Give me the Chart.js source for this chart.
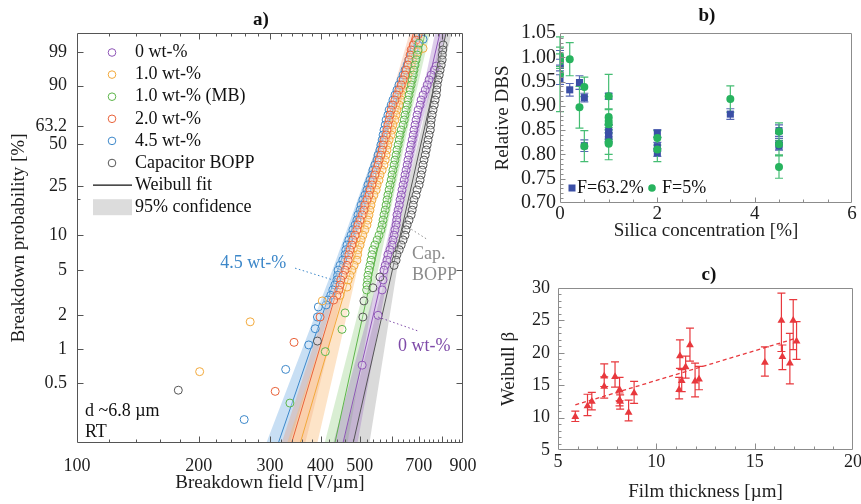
<!DOCTYPE html>
<html>
<head>
<meta charset="utf-8">
<title>Breakdown strength of BOPP / silica films</title>
<script src="https://cdn.jsdelivr.net/npm/chart.js@4.4.1/dist/chart.umd.min.js"></script>
<style>
  html, body { margin: 0; padding: 0; background: #fff; }
  body { width: 861px; height: 504px; position: relative; overflow: hidden; }
  .panel { position: absolute; }
  #boxA { left: 0; top: 0; width: 490px; height: 504px; }
  #boxB { left: 480px; top: 0; width: 400px; height: 250px; }
  #boxC { left: 480px; top: 250px; width: 400px; height: 254px; }
</style>
</head>
<body>
<div class="panel" id="boxA"><canvas id="chartA"></canvas></div>
<div class="panel" id="boxB"><canvas id="chartB"></canvas></div>
<div class="panel" id="boxC"><canvas id="chartC"></canvas></div>
<script>
// ---------- panel a) Weibull plot: field [V/um] vs failure probability [%] ----------
const aSeriesLabels = ['0 wt-%', '1.0 wt-%', '1.0 wt-% (MB)', '2.0 wt-%', '4.5 wt-%', 'Capacitor BOPP'];
const aLegendExtra = ['Weibull fit', '95% confidence'];
const aFieldTicks = [100, 200, 300, 400, 500, 600, 700, 800, 900];
const aFieldTickLabels = ['100', '200', '300', '400', '500', '', '700', '', '900'];
const aProbTicks = [0.5, 1, 2, 5, 10, 25, 50, 63.2, 90, 99];
const aProbTickLabels = ['0.5', '1', '2', '5', '10', '25', '50', '63.2', '90', '99'];
const aProbRange = [0.145, 99.89];

const field0 = [773, 764, 751, 742, 734, 726, 717, 709, 705, 697, 693, 689, 685, 681, 678, 674, 670, 666, 662, 658, 655, 651, 647, 644, 640, 636, 633, 629, 626, 622, 618, 617, 615, 611, 608, 604, 601, 594, 587, 584, 578, 574, 571, 568, 555, 507];
const prob0 = [96.8, 95.8, 94.3, 92.5, 90.3, 87.8, 85.0, 81.9, 78.6, 75.1, 71.5, 67.8, 64.0, 60.2, 56.5, 52.8, 49.2, 45.7, 42.3, 39.1, 36.1, 33.2, 30.6, 28.0, 25.7, 23.5, 21.4, 19.6, 17.8, 16.2, 14.8, 13.4, 12.2, 11.1, 10.0, 9.1, 8.25, 7.5, 6.8, 6.1, 5.5, 5.0, 4.1, 3.35, 2.0, 0.72];

const field10 = [717, 697, 677, 674, 670, 666, 658, 655, 647, 640, 636, 633, 626, 618, 615, 611, 604, 601, 598, 591, 587, 584, 581, 578, 574, 568, 561, 558, 552, 549, 542, 536, 533, 530, 527, 524, 521, 515, 509, 504, 501, 495, 494, 492, 484, 478, 473, 468, 465, 447, 404, 268, 201];
const prob10 = [99.3, 99.0, 98.68, 97.98, 97.04, 95.8, 94.3, 92.5, 90.3, 87.8, 85.0, 81.9, 78.6, 75.1, 71.5, 67.8, 64.0, 60.2, 56.5, 52.8, 49.2, 45.7, 42.3, 39.1, 36.1, 33.2, 30.6, 28.0, 25.7, 23.5, 21.4, 19.6, 17.8, 16.2, 14.8, 13.4, 12.2, 11.1, 10.0, 9.1, 8.25, 7.5, 6.8, 6.1, 5.5, 5.0, 4.5, 4.1, 3.55, 3.0, 2.68, 1.75, 0.63];

const field10mb = [701, 697, 693, 689, 685, 681, 678, 674, 670, 666, 662, 658, 655, 651, 647, 644, 640, 633, 629, 626, 622, 618, 615, 611, 608, 604, 601, 598, 594, 591, 587, 584, 581, 578, 574, 571, 568, 564, 558, 552, 545, 539, 536, 533, 530, 527, 524, 523, 521, 520, 460, 452, 411, 336];
const prob10mb = [99.6, 99.18, 98.68, 97.98, 97.04, 95.8, 94.3, 92.5, 90.3, 87.8, 85.0, 81.9, 78.6, 75.1, 71.5, 67.8, 64.0, 60.2, 56.5, 52.8, 49.2, 45.7, 42.3, 39.1, 36.1, 33.2, 30.6, 28.0, 25.7, 23.5, 21.4, 19.6, 17.8, 16.2, 14.8, 13.4, 12.2, 11.1, 10.0, 9.1, 8.25, 7.5, 6.8, 6.1, 5.5, 5.0, 4.5, 4.1, 3.7, 3.35, 2.1, 1.5, 0.95, 0.33];

const field20 = [697, 689, 678, 670, 666, 662, 658, 651, 647, 640, 633, 625, 618, 611, 604, 598, 594, 591, 587, 584, 581, 574, 571, 568, 564, 558, 555, 549, 545, 539, 536, 530, 527, 521, 515, 512, 507, 501, 495, 492, 487, 481, 478, 473, 470, 468, 465, 460, 455, 449, 447, 444, 439, 431, 399, 344, 309];
const prob20 = [99.86, 99.72, 99.51, 99.18, 98.68, 97.98, 97.04, 95.8, 94.3, 92.5, 90.3, 87.8, 85.0, 81.9, 78.6, 75.1, 71.5, 67.8, 64.0, 60.2, 56.5, 52.8, 49.2, 45.7, 42.3, 39.1, 36.1, 33.2, 30.6, 28.0, 25.7, 23.5, 21.4, 19.6, 17.8, 16.2, 14.8, 13.4, 12.2, 11.1, 10.0, 9.1, 8.25, 7.5, 6.8, 6.1, 5.5, 5.0, 4.5, 4.1, 3.7, 3.35, 3.0, 2.73, 1.93, 1.15, 0.42];

const field45 = [717, 697, 681, 670, 662, 655, 647, 640, 633, 625, 618, 611, 604, 598, 591, 587, 581, 578, 574, 571, 568, 564, 561, 555, 552, 545, 539, 536, 530, 524, 521, 515, 509, 504, 501, 495, 492, 487, 481, 476, 470, 465, 462, 460, 454, 447, 442, 441, 439, 434, 429, 424, 417, 413, 395, 393, 388, 374, 328, 259];
const prob45 = [99.75, 99.51, 99.18, 98.68, 97.98, 97.04, 95.8, 94.3, 92.5, 90.3, 87.8, 85.0, 81.9, 78.6, 75.1, 71.5, 67.8, 64.0, 60.2, 56.5, 52.8, 49.2, 45.7, 42.3, 39.1, 36.1, 33.2, 30.6, 28.0, 25.7, 23.5, 21.4, 19.6, 17.8, 16.2, 14.8, 13.4, 12.2, 11.1, 10.0, 9.1, 8.25, 7.5, 6.8, 6.1, 5.5, 5.0, 4.5, 4.1, 3.7, 3.35, 3.0, 2.73, 2.47, 2.37, 1.93, 1.52, 1.09, 0.66, 0.235];

const fieldCap = [804, 802, 800, 799, 795, 790, 786, 781, 777, 775, 773, 768, 764, 759, 755, 751, 749, 747, 742, 738, 734, 730, 726, 721, 717, 713, 709, 705, 701, 693, 689, 681, 678, 674, 670, 662, 655, 651, 647, 640, 633, 626, 618, 615, 608, 561, 539, 512, 509, 393, 178];
const probCap = [99.51, 99.18, 98.68, 97.98, 97.04, 95.8, 94.3, 92.5, 90.3, 87.8, 85.0, 81.9, 78.6, 75.1, 71.5, 67.8, 64.0, 60.2, 56.5, 52.8, 49.2, 45.7, 42.3, 39.1, 36.1, 33.2, 30.6, 28.0, 25.7, 23.5, 21.4, 19.6, 17.8, 16.2, 14.8, 13.4, 12.2, 11.1, 10.0, 9.1, 8.25, 7.5, 6.8, 6.1, 5.5, 4.35, 3.5, 2.68, 1.93, 1.18, 0.43];

// Weibull fit lines (field at the two probabilities in fitProb)
const fitProb = [0.12, 99.95];
const fit0 = [449, 795];
const fit10 = [351, 713];
const fit10mb = [429, 730];
const fit20 = [334, 685];
const fit45 = [309, 709];
const fitCap = [476, 823];

// 95% confidence bounds (field at the probabilities in bandProb)
const bandProb = [0.12, 5, 63.2, 99.95];
const band0Lo = [424, 561, 685, 773], band0Hi = [489, 590, 709, 823];
const band10Lo = [325, 460, 594, 693], band10Hi = [388, 493, 615, 734];
const band10mbLo = [404, 527, 637, 713], band10mbHi = [462, 555, 659, 751];
const band20Lo = [315, 442, 570, 670], band20Hi = [362, 468, 587, 705];
const band45Lo = [288, 428, 574, 689], band45Hi = [331, 453, 594, 730];
const bandCapLo = [449, 584, 713, 800], bandCapHi = [524, 618, 738, 851];

// ---------- panel b) relative DBS vs silica concentration ----------
const bConcTicks = [0, 2, 4, 6];
const bDbsTicks = [0.70, 0.75, 0.80, 0.85, 0.90, 0.95, 1.00, 1.05];
const bLegend = ['F=63.2%', 'F=5%'];
const bConc63 = [0, 0, 0, 0.2, 0.4, 0.5, 0.5, 1, 1, 1, 1, 2, 2, 2, 3.5, 4.5, 4.5, 4.5];
const bDbs63 = [0.999, 0.984, 0.954, 0.933, 0.948, 0.917, 0.818, 0.920, 0.848, 0.841, 0.836, 0.843, 0.816, 0.804, 0.883, 0.849, 0.821, 0.817];
const bErr63 = [0.015, 0.012, 0.010, 0.013, 0.014, 0.009, 0.012, 0.006, 0.012, 0.010, 0.009, 0.008, 0.009, 0.008, 0.011, 0.012, 0.012, 0.008];
const bConc5 = [0, 0, 0, 0.2, 0.4, 0.5, 0.5, 1, 1, 1, 1, 1, 1, 2, 2, 3.5, 4.5, 4.5, 4.5];
const bDbs5 = [1.001, 0.992, 0.965, 0.996, 0.897, 0.939, 0.817, 0.920, 0.877, 0.869, 0.862, 0.825, 0.822, 0.834, 0.810, 0.914, 0.847, 0.821, 0.774];
const bErr5 = [0.020, 0.015, 0.077, 0.034, 0.043, 0.020, 0.032, 0.045, 0.015, 0.025, 0.030, 0.025, 0.033, 0.015, 0.025, 0.027, 0.018, 0.022, 0.023];

// ---------- panel c) Weibull beta vs film thickness ----------
const cThickTicks = [5, 10, 15, 20];
const cBetaTicks = [5, 10, 15, 20, 25, 30];
const cThick = [5.88, 6.5, 6.72, 7.35, 7.35, 7.9, 8.13, 8.13, 8.16, 8.59, 8.87, 11.16, 11.2, 11.29, 11.49, 11.71, 11.97, 12.17, 15.52, 16.36, 16.41, 16.79, 16.96, 17.13];
const cBeta = [10.15, 11.8, 12.5, 14.8, 16.4, 16.3, 14.3, 12.7, 12.5, 10.8, 13.8, 14.3, 19.5, 15.7, 17.8, 21.2, 15.6, 15.9, 18.5, 25.0, 19.4, 18.4, 25.0, 21.8];
const cBetaHi = [11.0, 13.6, 13.9, 16.3, 18.3, 18.6, 16.2, 13.8, 13.5, 12.7, 15.6, 16.2, 22.0, 17.4, 19.5, 23.8, 18.4, 17.9, 20.9, 29.2, 21.2, 23.0, 28.2, 24.8];
const cBetaLo = [9.4, 10.3, 11.2, 13.0, 14.8, 14.7, 12.6, 11.8, 11.3, 9.5, 12.2, 12.9, 17.6, 14.0, 16.1, 18.7, 13.2, 14.3, 16.4, 20.2, 17.4, 15.2, 20.5, 19.0];
const cTrendThick = [5.88, 17.13];
const cTrendBeta = [11.96, 22.27];

// ---------- shared setup ----------
const SERIF = '"Liberation Serif", "Times New Roman", serif';
Chart.defaults.font.family = SERIF;
Chart.defaults.font.size = 18;
Chart.defaults.color = '#1e1e1e';
Chart.defaults.animation = false;
Chart.defaults.events = [];
Chart.defaults.plugins.legend.display = false;
Chart.defaults.plugins.tooltip.enabled = false;

const weibit = p => Math.log(-Math.log(1 - p / 100));
const steps = (from, to, d) => Array.from({ length: Math.round((to - from) / d) + 1 }, (_, i) => +(from + i * d).toFixed(4));
const toPoints = (xs, ys, fy) => xs.map((v, i) => ({ x: v, y: fy ? fy(ys[i]) : ys[i] }));

function put(ctx, str, x, y, font, color, align) {
  ctx.font = font;
  ctx.fillStyle = color;
  ctx.textAlign = align || 'left';
  ctx.textBaseline = 'middle';
  ctx.fillText(str, x, y);
}

function dotted(ctx, p1, p2, color) {
  ctx.save();
  ctx.strokeStyle = color;
  ctx.lineWidth = 1;
  ctx.setLineDash([1.5, 2.5]);
  ctx.beginPath();
  ctx.moveTo(p1[0], p1[1]);
  ctx.lineTo(p2[0], p2[1]);
  ctx.stroke();
  ctx.restore();
}

// box round the plot area with inward tick marks
function drawFrame(chart, f) {
  const { ctx, chartArea: a, scales: { x, y } } = chart;
  const L = Math.round(a.left) + 0.5, R = Math.round(a.right) - 0.5;
  const T = Math.round(a.top) + 0.5, B = Math.round(a.bottom) - 0.5;
  ctx.save();
  ctx.strokeStyle = f.color;
  ctx.lineWidth = 1;
  ctx.beginPath();
  const xTick = (v, len) => {
    const px = Math.round(x.getPixelForValue(v)) + 0.5;
    if (px <= L || px >= R) return;
    ctx.moveTo(px, B); ctx.lineTo(px, B - len);
    if (f.mirror) { ctx.moveTo(px, T); ctx.lineTo(px, T + len); }
  };
  const yTick = (v, len) => {
    const py = Math.round(y.getPixelForValue(v)) + 0.5;
    if (py <= T || py >= B) return;
    ctx.moveTo(L, py); ctx.lineTo(L + len, py);
    if (f.mirror) { ctx.moveTo(R, py); ctx.lineTo(R - len, py); }
  };
  f.xMinor.forEach(v => xTick(v, f.minorLen));
  f.xMajor.forEach(v => xTick(v, f.majorLen));
  f.yMinor.forEach(v => yTick(v, f.minorLen));
  f.yMajor.forEach(v => yTick(v, f.majorLen));
  ctx.rect(L, T, R - L, B - T);
  ctx.stroke();
  ctx.restore();
}

function errorBars(chart, xs, lo, hi, color, cap) {
  const { ctx, scales: { x, y } } = chart;
  ctx.save();
  ctx.strokeStyle = color;
  ctx.lineWidth = 1.2;
  ctx.beginPath();
  xs.forEach((v, i) => {
    const px = x.getPixelForValue(v);
    const p1 = y.getPixelForValue(lo[i]), p2 = y.getPixelForValue(hi[i]);
    ctx.moveTo(px, p1); ctx.lineTo(px, p2);
    ctx.moveTo(px - cap, p1); ctx.lineTo(px + cap, p1);
    ctx.moveTo(px - cap, p2); ctx.lineTo(px + cap, p2);
  });
  ctx.stroke();
  ctx.restore();
}

const noGrid = { display: false, drawTicks: false };
const noBorder = { display: false };

// ---------- panel a ----------
const aColors = ['#8e55b6', '#f2a93b', '#5db54a', '#e8623a', '#3c87c9', '#555555'];
const aBandColors = ['rgba(150,100,190,0.32)', 'rgba(250,185,110,0.38)', 'rgba(130,200,110,0.30)',
  'rgba(240,140,95,0.28)', 'rgba(110,170,225,0.38)', 'rgba(140,140,140,0.32)'];
const aPointOrder = [2, 5, 3, 4, 6, 1];
const aFields = [field0, field10, field10mb, field20, field45, fieldCap];
const aProbs = [prob0, prob10, prob10mb, prob20, prob45, probCap];
const aFits = [fit0, fit10, fit10mb, fit20, fit45, fitCap];
const aBandLo = [band0Lo, band10Lo, band10mbLo, band20Lo, band45Lo, bandCapLo];
const aBandHi = [band0Hi, band10Hi, band10mbHi, band20Hi, band45Hi, bandCapHi];

const aDatasets = [];
aSeriesLabels.forEach((label, i) => {
  aDatasets.push({
    label, data: toPoints(aFields[i], aProbs[i], weibit),
    borderColor: aColors[i], backgroundColor: 'rgba(255,255,255,0.25)',
    pointRadius: 4, pointBorderWidth: 1, order: aPointOrder[i]
  });
  aDatasets.push({
    label: label + ' fit', data: toPoints(aFits[i], fitProb, weibit),
    showLine: true, fill: false, borderColor: aColors[i], borderWidth: 1, pointRadius: 0, order: 20
  });
  const lo = toPoints(aBandLo[i], bandProb, weibit);
  const hi = toPoints(aBandHi[i], bandProb, weibit).reverse();
  aDatasets.push({
    label: label + ' 95%', data: lo.concat(hi),
    showLine: true, fill: 'shape', backgroundColor: aBandColors[i],
    borderColor: 'rgba(0,0,0,0)', borderWidth: 0, pointRadius: 0, order: 30
  });
});

const aDecor = {
  id: 'aDecor',
  afterDraw(chart) {
    const { ctx, chartArea: a, scales: { x, y } } = chart;
    drawFrame(chart, {
      color: '#555', mirror: true, majorLen: 6, minorLen: 3,
      xMajor: aFieldTicks, xMinor: steps(100, 900, 20).filter(v => v % 100),
      yMajor: aProbTicks.map(weibit), yMinor: [20].map(weibit)
    });
    put(ctx, 'a)', a.left + 184, 20, 'bold 19px ' + SERIF, '#111', 'center');

    // legend
    const row = i => a.top + 19.5 + i * 22.1;
    const font = '18px ' + SERIF;
    aSeriesLabels.forEach((label, i) => {
      ctx.save();
      ctx.strokeStyle = aColors[i];
      ctx.lineWidth = 1;
      ctx.beginPath();
      ctx.arc(a.left + 35, row(i), 3.8, 0, Math.PI * 2);
      ctx.stroke();
      ctx.restore();
      put(ctx, label, a.left + 58, row(i), font, '#111');
    });
    ctx.save();
    ctx.strokeStyle = '#111';
    ctx.lineWidth = 1.3;
    ctx.beginPath();
    ctx.moveTo(a.left + 16, row(6));
    ctx.lineTo(a.left + 55, row(6));
    ctx.stroke();
    ctx.fillStyle = '#dcdcdc';
    ctx.fillRect(a.left + 16, row(7) - 8, 39, 16);
    ctx.restore();
    put(ctx, aLegendExtra[0], a.left + 58, row(6), font, '#111');
    put(ctx, aLegendExtra[1], a.left + 58, row(7), font, '#111');

    // annotations, anchored in data coordinates
    const at = (f, p) => [x.getPixelForValue(f), y.getPixelForValue(weibit(p))];
    let p = at(226, 5.77);
    put(ctx, '4.5 wt-%', p[0], p[1], font, '#3c87c9');
    dotted(ctx, at(346, 5.2), at(429, 4.1), '#3c87c9');
    p = at(673, 6.8);
    put(ctx, 'Cap.', p[0], p[1], font, '#8c8c8c');
    p = at(673, 4.5);
    put(ctx, 'BOPP', p[0], p[1], font, '#8c8c8c');
    dotted(ctx, at(658, 11.7), at(738, 9.1), '#8c8c8c');
    p = at(622, 1.05);
    put(ctx, '0 wt-%', p[0], p[1], font, '#7e4aa8');
    dotted(ctx, at(555, 1.93), at(697, 1.45), '#7e4aa8');
    p = at(104.6, 0.28);
    put(ctx, 'd ~6.8 µm', p[0], p[1], font, '#111');
    p = at(104.6, 0.182);
    put(ctx, 'RT', p[0], p[1], font, '#111');
  }
};

new Chart(document.getElementById('chartA'), {
  type: 'scatter',
  data: { datasets: aDatasets },
  options: {
    responsive: true,
    maintainAspectRatio: false,
    layout: { padding: { top: 33, right: 27, bottom: 0, left: 0 } },
    scales: {
      x: {
        type: 'logarithmic', min: 100, max: 900,
        grid: noGrid, border: noBorder,
        afterBuildTicks: s => { s.ticks = aFieldTicks.map(v => ({ value: v })); },
        afterFit: s => { s.height = 61; },
        ticks: { autoSkip: false, maxRotation: 0, padding: 12, callback: (v, i) => aFieldTickLabels[i] },
        title: { display: true, text: 'Breakdown field [V/µm]', font: { size: 19 }, padding: { top: 0, bottom: 10 } }
      },
      y: {
        type: 'linear', min: weibit(aProbRange[0]), max: weibit(aProbRange[1]),
        grid: noGrid, border: noBorder,
        afterBuildTicks: s => { s.ticks = aProbTicks.map(v => ({ value: weibit(v) })); },
        afterFit: s => { s.width = 77; },
        ticks: { autoSkip: false, padding: 10, callback: (v, i) => aProbTickLabels[i] },
        title: { display: true, text: 'Breakdown probability [%]', font: { size: 19 }, padding: { top: 8, bottom: 0 } }
      }
    }
  },
  plugins: [aDecor]
});

// ---------- panel b ----------
const bBlue = '#3b4fa6', bGreen = '#27b35e';
const bDecor = {
  id: 'bDecor',
  beforeDatasetsDraw(chart) {
    errorBars(chart, bConc63, bDbs63.map((v, i) => v - bErr63[i]), bDbs63.map((v, i) => v + bErr63[i]), '#5566b3', 4);
    errorBars(chart, bConc5, bDbs5.map((v, i) => v - bErr5[i]), bDbs5.map((v, i) => v + bErr5[i]), '#45bd73', 4);
  },
  afterDraw(chart) {
    const { ctx, chartArea: a } = chart;
    drawFrame(chart, {
      color: '#8c8c8c', mirror: false, majorLen: 5, minorLen: 3,
      xMajor: bConcTicks, xMinor: steps(0, 6, 0.5),
      yMajor: bDbsTicks, yMinor: steps(0.70, 1.05, 0.01)
    });
    put(ctx, 'b)', a.left + 147, 16, 'bold 19px ' + SERIF, '#111', 'center');
    const ly = a.top + 155;
    ctx.fillStyle = bBlue;
    ctx.fillRect(a.left + 8.5, ly - 3.5, 7, 7);
    put(ctx, bLegend[0], a.left + 17, ly, '18px ' + SERIF, '#111');
    ctx.fillStyle = bGreen;
    ctx.beginPath();
    ctx.arc(a.left + 92, ly, 3.8, 0, Math.PI * 2);
    ctx.fill();
    put(ctx, bLegend[1], a.left + 102, ly, '18px ' + SERIF, '#111');
  }
};

new Chart(document.getElementById('chartB'), {
  type: 'scatter',
  data: {
    datasets: [
      { label: bLegend[1], data: toPoints(bConc5, bDbs5), pointStyle: 'circle', pointRadius: 4,
        backgroundColor: bGreen, borderColor: bGreen, borderWidth: 0, order: 0 },
      { label: bLegend[0], data: toPoints(bConc63, bDbs63), pointStyle: 'rect', pointRadius: 5,
        backgroundColor: bBlue, borderColor: bBlue, borderWidth: 0, order: 1 }
    ]
  },
  options: {
    responsive: true,
    maintainAspectRatio: false,
    layout: { padding: { top: 33, right: 28, bottom: 0, left: 0 } },
    scales: {
      x: {
        type: 'linear', min: 0, max: 6, grid: noGrid, border: noBorder,
        afterBuildTicks: s => { s.ticks = bConcTicks.map(v => ({ value: v })); },
        afterFit: s => { s.height = 47; },
        ticks: { autoSkip: false, maxRotation: 0, padding: 0, font: { size: 19 } },
        title: { display: true, text: 'Silica concentration [%]', font: { size: 19 }, padding: { top: 0, bottom: 8 } }
      },
      y: {
        type: 'linear', min: 0.70, max: 1.05, grid: noGrid, border: noBorder,
        afterBuildTicks: s => { s.ticks = bDbsTicks.map(v => ({ value: v })); },
        afterFit: s => { s.width = 80; },
        ticks: { autoSkip: false, padding: 4, font: { size: 20 }, callback: v => v.toFixed(2) },
        title: { display: true, text: 'Relative DBS', font: { size: 19 }, padding: { top: 12, bottom: 0 } }
      }
    }
  },
  plugins: [bDecor]
});

// ---------- panel c ----------
const cRed = '#e8383d';
const cDecor = {
  id: 'cDecor',
  beforeDatasetsDraw(chart) {
    errorBars(chart, cThick, cBetaLo, cBetaHi, cRed, 4);
  },
  afterDraw(chart) {
    const { ctx, chartArea: a } = chart;
    drawFrame(chart, {
      color: '#8c8c8c', mirror: false, majorLen: 6, minorLen: 3,
      xMajor: cThickTicks, xMinor: steps(5, 20, 1),
      yMajor: cBetaTicks, yMinor: steps(5, 30, 1)
    });
    put(ctx, 'c)', a.left + 151, 25, 'bold 19px ' + SERIF, '#111', 'center');
  }
};

new Chart(document.getElementById('chartC'), {
  type: 'scatter',
  data: {
    datasets: [
      { label: 'Weibull β', data: toPoints(cThick, cBeta), pointStyle: 'triangle', pointRadius: 4.5,
        backgroundColor: cRed, borderColor: cRed, borderWidth: 0, order: 0 },
      { label: 'trend', data: toPoints(cTrendThick, cTrendBeta), showLine: true, fill: false,
        borderColor: cRed, borderWidth: 1.3, borderDash: [4, 3], pointRadius: 0, order: 1 }
    ]
  },
  options: {
    responsive: true,
    maintainAspectRatio: false,
    layout: { padding: { top: 38, right: 27, bottom: 0, left: 0 } },
    scales: {
      x: {
        type: 'linear', min: 5, max: 20, grid: noGrid, border: noBorder,
        afterBuildTicks: s => { s.ticks = cThickTicks.map(v => ({ value: v })); },
        afterFit: s => { s.height = 54; },
        ticks: { autoSkip: false, maxRotation: 0, padding: 1 },
        title: { display: true, text: 'Film thickness [µm]', font: { size: 19 }, padding: { top: 0, bottom: 1 } }
      },
      y: {
        type: 'linear', min: 5, max: 30, grid: noGrid, border: noBorder,
        afterBuildTicks: s => { s.ticks = cBetaTicks.map(v => ({ value: v })); },
        afterFit: s => { s.width = 78; },
        ticks: { autoSkip: false, padding: 8 },
        title: { display: true, text: 'Weibull β', font: { size: 19 }, padding: { top: 18, bottom: 0 } }
      }
    }
  },
  plugins: [cDecor]
});
</script>
</body>
</html>
